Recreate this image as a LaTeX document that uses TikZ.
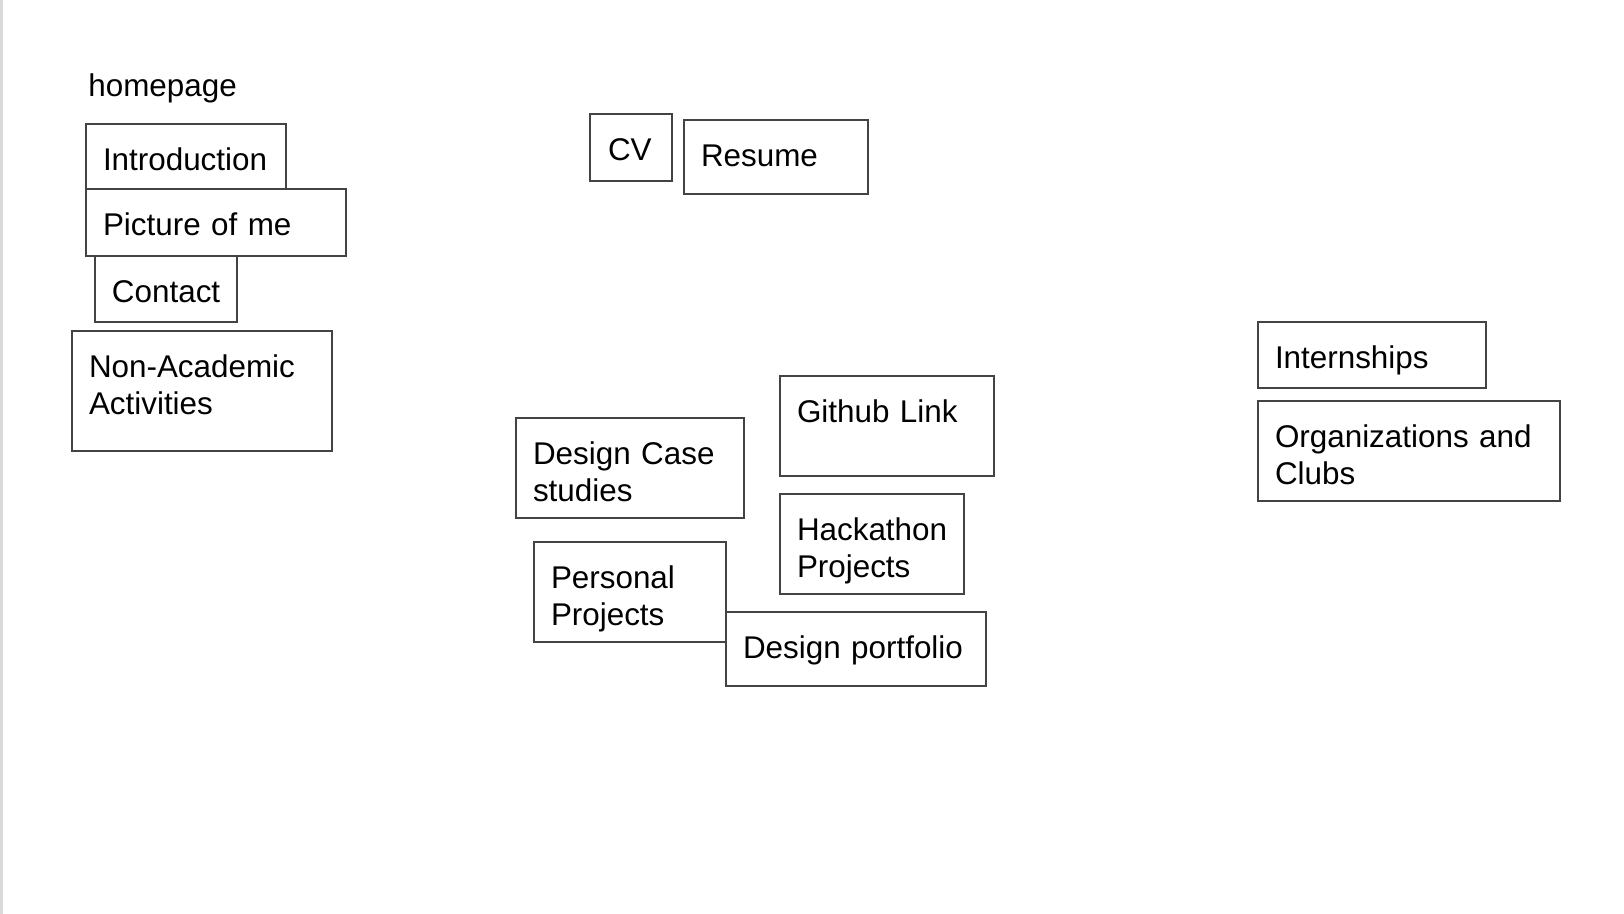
\documentclass[tikz,border=0pt]{standalone}
\usepackage{fontspec}
\setmainfont{Liberation Sans}
\usepackage{xcolor}
\usepackage{tikz}
\definecolor{boxgray}{RGB}{67,67,67}
\definecolor{edgegray}{RGB}{217,217,217}
\hyphenpenalty=10000
\exhyphenpenalty=10000

\begin{document}
\begin{tikzpicture}[x=0.5pt,y=-0.5pt,
	box/.style={draw=boxgray, line width=1pt, anchor=north west, align=left,
		inner xsep=8.5pt, inner ysep=0pt, outer sep=0pt, text height=23.5pt,
		font=\fontsize{15.7}{18.5}\selectfont},
	plain/.style={anchor=base west, inner sep=0pt, font=\fontsize{15.7}{18.5}\selectfont}]
			\useasboundingbox (0,0) rectangle (1624,914);
			\fill[edgegray] (0,0) rectangle (3,914);
			%% homepage column
			\node[plain] (home) at (88,97) {homepage};
			\node[box, text width=83pt, text depth=9pt] (intro) at (86,124) {Introduction};
			\node[box, text width=113pt, text depth=10pt] (pic) at (86,189) {Picture of me};
			\node[box, text width=54pt, text depth=9.5pt] (contact) at (95,256) {Contact};
			\node[box, text width=113pt, text depth=36.5pt] (nonacad) at (72,331) {Non-Academic\\Activities};
			%% documents
			\node[box, text width=23pt, text depth=10pt, inner xsep=9pt] (cv) at (590,114) {CV};
			\node[box, text width=75pt, text depth=13.5pt] (resume) at (684,120) {Resume};
			%% projects
			\node[box, text width=90pt, text depth=26.5pt] (github) at (780,376) {Github Link};
			\node[box, text width=97pt, text depth=26.5pt] (cases) at (516,418) {Design Case\\studies};
			\node[box, text width=75pt, text depth=26.5pt] (hack) at (780,494) {Hackathon\\Projects};
			\node[box, text width=79pt, text depth=26.5pt] (personal) at (534,542) {Personal\\Projects};
			\node[box, text width=113pt, text depth=13.5pt] (portfolio) at (726,612) {Design portfolio};
			%% experience
			\node[box, text width=97pt, text depth=9.5pt] (intern) at (1258,322) {Internships};
			\node[box, text width=134pt, text depth=26.5pt] (orgs) at (1258,401) {Organizations and\\Clubs};
		\end{tikzpicture}
\end{document}
